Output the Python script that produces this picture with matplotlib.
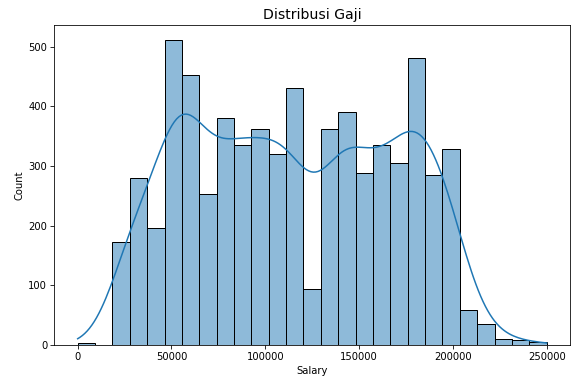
import numpy as np
import pandas as pd
import matplotlib
matplotlib.use("Agg")
import matplotlib.pyplot as plt
import seaborn as sns

# Histogram of salaries: 27 equal bins from 0 to 250000
bin_start = 0
bin_end = 250000
n_bins = 27
counts = [4, 0, 172, 280, 197, 511, 453, 254, 380, 335, 362, 321, 431, 94,
          362, 391, 288, 335, 305, 481, 285, 329, 58, 36, 10, 8, 5]

edges = np.linspace(bin_start, bin_end, n_bins + 1)
centers = (edges[:-1] + edges[1:]) / 2
df = pd.DataFrame({"Salary": centers, "w": counts})

fig = plt.figure(figsize=(8, 388 / 72.125), dpi=72.125)
ax = fig.add_axes([0.094, 0.1108, 0.894, 0.8248])
sns.histplot(data=df, x="Salary", weights="w", bins=list(edges), kde=True, ax=ax,
             kde_kws=dict(cut=3, clip=(bin_start, bin_end), bw_adjust=0.38))
ax.set_title("Distribusi Gaji", fontsize=14)
ax.set_xlabel("Salary")
ax.set_ylabel("Count")
fig.savefig("out.png", dpi=72.125)
